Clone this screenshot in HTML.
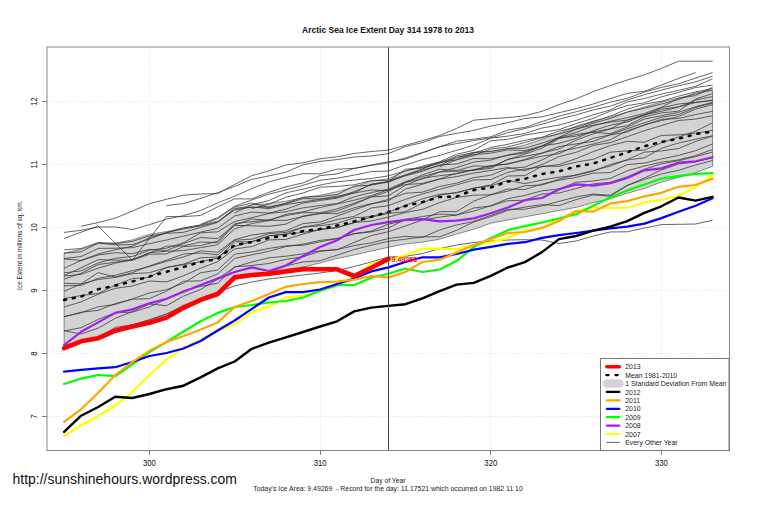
<!DOCTYPE html>
<html><head><meta charset="utf-8"><style>
html,body{margin:0;padding:0;background:#fff;overflow:hidden;}
svg{display:block;font-family:"Liberation Sans",sans-serif;}
</style></head><body>
<svg width="760" height="506" viewBox="0 0 760 506">
<rect x="0" y="0" width="760" height="506" fill="#fff"/>
<line x1="149.5" y1="47" x2="149.5" y2="450.5" stroke="#ececec" stroke-width="1" stroke-dasharray="1.5,1.5"/>
<line x1="320.5" y1="47" x2="320.5" y2="450.5" stroke="#ececec" stroke-width="1" stroke-dasharray="1.5,1.5"/>
<line x1="490.5" y1="47" x2="490.5" y2="450.5" stroke="#ececec" stroke-width="1" stroke-dasharray="1.5,1.5"/>
<line x1="661.5" y1="47" x2="661.5" y2="450.5" stroke="#ececec" stroke-width="1" stroke-dasharray="1.5,1.5"/>
<line x1="47" y1="416.5" x2="729.5" y2="416.5" stroke="#ececec" stroke-width="1" stroke-dasharray="1.5,1.5"/>
<line x1="47" y1="353.5" x2="729.5" y2="353.5" stroke="#ececec" stroke-width="1" stroke-dasharray="1.5,1.5"/>
<line x1="47" y1="290.5" x2="729.5" y2="290.5" stroke="#ececec" stroke-width="1" stroke-dasharray="1.5,1.5"/>
<line x1="47" y1="227.5" x2="729.5" y2="227.5" stroke="#ececec" stroke-width="1" stroke-dasharray="1.5,1.5"/>
<line x1="47" y1="164.5" x2="729.5" y2="164.5" stroke="#ececec" stroke-width="1" stroke-dasharray="1.5,1.5"/>
<line x1="47" y1="101.5" x2="729.5" y2="101.5" stroke="#ececec" stroke-width="1" stroke-dasharray="1.5,1.5"/>
<polygon points="64.1,252.9 81.1,249.3 98.2,243.4 115.3,243.0 132.3,239.9 149.4,234.4 166.5,231.6 183.5,228.0 200.6,225.0 217.7,220.9 234.7,209.3 251.8,204.7 268.9,203.6 285.9,201.2 303.0,197.6 320.1,195.3 337.1,191.7 354.2,187.0 371.3,181.0 388.4,178.7 405.4,171.0 422.5,166.0 439.6,162.0 456.6,158.0 473.7,152.2 490.8,151.1 507.8,148.7 524.9,145.1 542.0,139.2 559.0,133.3 576.1,126.2 593.2,121.0 610.2,117.0 627.3,112.0 644.4,107.0 661.4,102.0 678.5,98.0 695.6,94.0 712.6,90.3 712.6,166.3 695.6,172.6 678.5,177.4 661.4,182.1 644.4,188.4 627.3,193.2 610.2,198.8 593.2,202.6 576.1,207.4 559.0,210.5 542.0,213.7 524.9,216.8 507.8,220.0 490.8,223.2 473.7,229.3 456.6,234.0 439.6,239.2 422.5,242.1 405.4,244.0 388.4,247.3 371.3,251.0 354.2,255.0 337.1,258.5 320.1,263.0 303.0,267.0 285.9,271.0 268.9,273.6 251.8,275.0 234.7,277.5 217.7,294.0 200.6,300.0 183.5,305.0 166.5,314.0 149.4,320.0 132.3,326.0 115.3,331.0 98.2,337.5 81.1,342.0 64.1,345.0" fill="#d3d3d3" stroke="#444" stroke-width="0.6"/>
<polyline points="81.1,226.2 98.2,222.6 115.3,218.1 132.3,211.1 149.4,203.7 166.5,199.3 183.5,195.2 200.6,194.0 217.7,193.6 234.7,184.4 251.8,175.7 268.9,170.9 285.9,165.0 303.0,162.8 320.1,158.8 337.1,156.8 354.2,153.5 371.3,151.5 388.4,150.1 405.4,145.3 422.5,140.7 439.6,135.5 456.6,128.4 473.7,120.2 490.8,118.7 507.8,117.6 524.9,115.8 542.0,111.3 559.0,104.6 576.1,98.9 593.2,91.6 610.2,85.6 627.3,80.0 644.4,74.8 661.4,68.4 678.5,61.2 695.6,61.2 712.6,61.2" fill="none" stroke="#333" stroke-width="0.75"/>
<polyline points="166.5,205.6 183.5,203.5 200.6,198.4 217.7,192.7 234.7,186.3 251.8,179.4 268.9,175.9 285.9,172.2 303.0,164.8 320.1,161.4 337.1,159.6 354.2,157.0 371.3,156.0 388.4,153.6 405.4,146.6 422.5,142.5 439.6,136.5 456.6,133.4 473.7,130.4 490.8,126.1 507.8,122.7 524.9,118.5 542.0,116.8 559.0,112.7 576.1,108.7 593.2,104.0 610.2,98.6 627.3,93.4 644.4,91.3 661.4,85.1 678.5,78.4 695.6,72.7" fill="none" stroke="#333" stroke-width="0.75"/>
<polyline points="64.1,232.4 81.1,230.3 98.2,227.0 115.3,226.9 132.3,229.6 149.4,224.7 166.5,219.1 183.5,215.6 200.6,210.5 217.7,202.9 234.7,196.2 251.8,188.6 268.9,181.9 285.9,177.4 303.0,173.6 320.1,173.9 337.1,169.2 354.2,168.4 371.3,165.1 388.4,161.7 405.4,159.2 422.5,152.9 439.6,146.7 456.6,141.2 473.7,139.2 490.8,136.8 507.8,130.0 524.9,127.4 542.0,121.6 559.0,116.1 576.1,111.8 593.2,107.3 610.2,102.2 627.3,98.3 644.4,92.1 661.4,87.4 678.5,83.8 695.6,78.1 712.6,72.6" fill="none" stroke="#333" stroke-width="0.75"/>
<polyline points="64.1,238.4 81.1,232.2 98.2,226.1 115.3,243.1 132.3,260.1 149.4,238.4 166.5,216.6 183.5,216.6 200.6,215.5 217.7,206.8 234.7,198.9 251.8,198.9 268.9,192.3 285.9,186.8 303.0,182.9 320.1,175.6 337.1,173.9 354.2,168.4 371.3,165.3 388.4,162.9 405.4,158.0 422.5,152.5 439.6,146.8 456.6,143.6 473.7,140.6 490.8,137.9 507.8,132.7 524.9,128.5 542.0,124.2 559.0,119.2 576.1,114.9 593.2,109.9 610.2,106.2 627.3,100.0 644.4,94.7 661.4,90.1 678.5,85.8 695.6,81.9 712.6,76.2" fill="none" stroke="#333" stroke-width="0.75"/>
<polyline points="200.6,224.3 217.7,217.6 234.7,206.2 251.8,200.0 268.9,194.2 285.9,189.9 303.0,185.3 320.1,180.3 337.1,178.2 354.2,175.1 371.3,171.6 388.4,171.0 405.4,164.9 422.5,159.6 439.6,155.4 456.6,150.3 473.7,145.3 490.8,138.1 507.8,136.1 524.9,133.5 542.0,128.0 559.0,125.0 576.1,120.4 593.2,114.9 610.2,109.9 627.3,101.9 644.4,98.5 661.4,94.1 678.5,90.4 695.6,86.3 712.6,78.8" fill="none" stroke="#333" stroke-width="0.75"/>
<polyline points="234.7,212.9 251.8,204.8 268.9,200.5 285.9,192.8 303.0,189.1 320.1,185.0 337.1,181.8 354.2,180.1 371.3,178.5 388.4,175.9 405.4,170.8 422.5,167.2 439.6,161.8 456.6,154.3 473.7,150.3 490.8,140.8 507.8,139.3 524.9,135.1 542.0,132.3 559.0,129.6 576.1,123.6 593.2,118.4 610.2,111.1 627.3,105.6 644.4,102.8 661.4,96.9 678.5,92.4 695.6,87.5 712.6,85.1" fill="none" stroke="#333" stroke-width="0.75"/>
<polyline points="251.8,208.6 268.9,204.2 285.9,197.2 303.0,193.0 320.1,187.1 337.1,186.4 354.2,184.8 371.3,180.6 388.4,180.3 405.4,174.9 422.5,168.9 439.6,162.4 456.6,159.8 473.7,153.3 490.8,147.5 507.8,144.3 524.9,140.3 542.0,137.2 559.0,131.2 576.1,127.2 593.2,121.8 610.2,116.1 627.3,109.1 644.4,104.2 661.4,101.3 678.5,96.2 695.6,91.9 712.6,88.5" fill="none" stroke="#333" stroke-width="0.75"/>
<polyline points="439.6,166.8 456.6,159.7 473.7,155.7 490.8,149.0 507.8,147.0 524.9,142.5 542.0,137.6 559.0,134.0 576.1,129.2 593.2,123.1 610.2,118.6 627.3,112.0 644.4,108.2 661.4,104.0 678.5,99.5 695.6,93.1 712.6,89.7" fill="none" stroke="#333" stroke-width="0.75"/>
<polyline points="64.1,253.1 81.1,251.8 98.2,243.0 115.3,244.8 132.3,244.7 149.4,239.0 166.5,232.6 183.5,228.9 200.6,226.0 217.7,221.9 234.7,210.0 251.8,206.9 268.9,208.7 285.9,204.5 303.0,201.9 320.1,199.3 337.1,197.4 354.2,191.6 371.3,184.5 388.4,182.2 405.4,175.3 422.5,170.0 439.6,165.5 456.6,157.1 473.7,154.7 490.8,153.1 507.8,149.9 524.9,150.6 542.0,146.0 559.0,137.6 576.1,132.4 593.2,125.8 610.2,121.3 627.3,117.6 644.4,113.5 661.4,107.3 678.5,98.3 695.6,95.6 712.6,87.2" fill="none" stroke="#333" stroke-width="0.75"/>
<polyline points="64.1,258.9 81.1,260.4 98.2,254.0 115.3,249.7 132.3,246.3 149.4,237.7 166.5,232.7 183.5,227.9 200.6,225.0 217.7,218.6 234.7,207.2 251.8,203.0 268.9,207.7 285.9,203.1 303.0,197.2 320.1,196.5 337.1,194.5 354.2,186.0 371.3,185.2 388.4,181.6 405.4,169.2 422.5,168.0 439.6,163.2 456.6,156.0 473.7,152.5 490.8,151.5 507.8,148.5 524.9,148.2 542.0,143.1 559.0,137.3 576.1,129.0 593.2,125.1 610.2,122.2 627.3,120.0 644.4,115.2 661.4,107.8 678.5,104.0 695.6,102.3 712.6,100.6" fill="none" stroke="#333" stroke-width="0.75"/>
<polyline points="64.1,249.8 81.1,248.5 98.2,242.5 115.3,243.6 132.3,241.4 149.4,235.9 166.5,233.4 183.5,232.3 200.6,227.5 217.7,222.3 234.7,208.2 251.8,207.5 268.9,206.9 285.9,203.8 303.0,198.6 320.1,198.9 337.1,196.2 354.2,192.8 371.3,184.1 388.4,181.5 405.4,175.8 422.5,171.2 439.6,165.0 456.6,164.0 473.7,158.5 490.8,158.7 507.8,155.4 524.9,152.9 542.0,145.9 559.0,143.3 576.1,138.4 593.2,130.7 610.2,125.2 627.3,121.9 644.4,115.2 661.4,109.3 678.5,106.8 695.6,102.6 712.6,100.0" fill="none" stroke="#333" stroke-width="0.75"/>
<polyline points="64.1,258.7 81.1,256.5 98.2,248.4 115.3,248.2 132.3,247.7 149.4,243.7 166.5,240.0 183.5,236.1 200.6,232.1 217.7,228.3 234.7,215.9 251.8,212.1 268.9,213.1 285.9,209.2 303.0,203.1 320.1,200.5 337.1,198.1 354.2,193.0 371.3,190.0 388.4,190.7 405.4,182.3 422.5,178.9 439.6,171.9 456.6,171.1 473.7,170.2 490.8,168.4 507.8,159.2 524.9,156.3 542.0,153.1 559.0,148.9 576.1,140.1 593.2,133.8 610.2,128.9 627.3,120.3 644.4,114.7 661.4,111.3 678.5,107.1 695.6,100.2 712.6,96.5" fill="none" stroke="#333" stroke-width="0.75"/>
<polyline points="64.1,272.9 81.1,270.8 98.2,263.0 115.3,258.3 132.3,256.4 149.4,250.2 166.5,248.2 183.5,242.7 200.6,232.8 217.7,231.8 234.7,221.5 251.8,217.7 268.9,213.5 285.9,211.7 303.0,207.9 320.1,205.5 337.1,203.6 354.2,196.8 371.3,192.6 388.4,189.1 405.4,181.7 422.5,176.5 439.6,172.0 456.6,167.6 473.7,162.1 490.8,160.1 507.8,155.0 524.9,151.7 542.0,146.0 559.0,138.0 576.1,136.2 593.2,131.8 610.2,128.9 627.3,125.7 644.4,116.9 661.4,112.9 678.5,111.2 695.6,99.0 712.6,93.6" fill="none" stroke="#333" stroke-width="0.75"/>
<polyline points="64.1,268.2 81.1,260.5 98.2,255.0 115.3,252.7 132.3,253.6 149.4,249.4 166.5,250.7 183.5,243.6 200.6,237.5 217.7,238.6 234.7,225.0 251.8,219.0 268.9,220.3 285.9,220.4 303.0,216.5 320.1,213.6 337.1,211.0 354.2,204.4 371.3,196.9 388.4,191.4 405.4,182.6 422.5,174.9 439.6,169.2 456.6,170.6 473.7,165.9 490.8,166.4 507.8,163.8 524.9,159.5 542.0,153.1 559.0,146.6 576.1,143.9 593.2,141.4 610.2,134.8 627.3,128.7 644.4,122.8 661.4,117.3 678.5,114.6 695.6,107.5 712.6,103.1" fill="none" stroke="#333" stroke-width="0.75"/>
<polyline points="64.1,275.5 81.1,267.8 98.2,259.6 115.3,260.2 132.3,259.9 149.4,252.6 166.5,251.3 183.5,250.6 200.6,247.6 217.7,244.7 234.7,228.8 251.8,223.5 268.9,220.6 285.9,214.3 303.0,211.9 320.1,207.5 337.1,204.0 354.2,200.2 371.3,195.7 388.4,189.6 405.4,184.6 422.5,183.4 439.6,178.9 456.6,173.2 473.7,169.8 490.8,166.9 507.8,159.6 524.9,154.1 542.0,148.1 559.0,138.6 576.1,134.4 593.2,132.2 610.2,133.7 627.3,127.0 644.4,119.1 661.4,115.7 678.5,112.4 695.6,106.7 712.6,102.4" fill="none" stroke="#333" stroke-width="0.75"/>
<polyline points="64.1,279.1 81.1,273.3 98.2,264.5 115.3,262.2 132.3,260.2 149.4,254.2 166.5,253.9 183.5,246.6 200.6,245.5 217.7,241.2 234.7,223.7 251.8,221.6 268.9,219.9 285.9,215.6 303.0,212.6 320.1,212.8 337.1,208.8 354.2,203.3 371.3,196.9 388.4,195.8 405.4,185.3 422.5,178.2 439.6,175.7 456.6,173.8 473.7,169.8 490.8,165.5 507.8,164.1 524.9,160.0 542.0,156.2 559.0,153.6 576.1,145.6 593.2,138.3 610.2,134.9 627.3,132.0 644.4,124.6 661.4,120.6 678.5,116.5 695.6,109.1 712.6,104.5" fill="none" stroke="#333" stroke-width="0.75"/>
<polyline points="64.1,276.1 81.1,274.3 98.2,268.2 115.3,263.1 132.3,259.8 149.4,253.2 166.5,246.2 183.5,245.9 200.6,242.0 217.7,242.7 234.7,225.4 251.8,225.8 268.9,226.4 285.9,224.1 303.0,216.1 320.1,213.3 337.1,213.7 354.2,207.8 371.3,203.7 388.4,200.9 405.4,189.1 422.5,184.2 439.6,179.2 456.6,176.6 473.7,173.1 490.8,170.5 507.8,167.5 524.9,170.6 542.0,164.5 559.0,156.6 576.1,152.3 593.2,145.4 610.2,142.7 627.3,136.7 644.4,130.7 661.4,125.5 678.5,120.5 695.6,119.1 712.6,115.7" fill="none" stroke="#333" stroke-width="0.75"/>
<polyline points="64.1,285.8 81.1,285.4 98.2,278.3 115.3,275.3 132.3,270.8 149.4,266.5 166.5,261.4 183.5,257.0 200.6,250.8 217.7,252.3 234.7,239.6 251.8,235.0 268.9,232.7 285.9,230.9 303.0,223.6 320.1,222.0 337.1,216.1 354.2,209.8 371.3,204.1 388.4,199.4 405.4,193.3 422.5,192.1 439.6,186.5 456.6,183.1 473.7,177.7 490.8,175.2 507.8,168.4 524.9,167.1 542.0,159.9 559.0,151.6 576.1,148.1 593.2,144.0 610.2,139.8 627.3,130.6 644.4,125.3 661.4,119.4 678.5,118.5 695.6,114.5 712.6,111.4" fill="none" stroke="#333" stroke-width="0.75"/>
<polyline points="64.1,283.3 81.1,283.8 98.2,272.6 115.3,277.0 132.3,272.7 149.4,265.9 166.5,260.2 183.5,254.0 200.6,253.0 217.7,254.8 234.7,240.3 251.8,239.2 268.9,233.6 285.9,232.4 303.0,227.2 320.1,224.2 337.1,219.6 354.2,216.4 371.3,208.0 388.4,205.6 405.4,199.4 422.5,193.9 439.6,189.3 456.6,184.9 473.7,180.0 490.8,179.5 507.8,172.3 524.9,169.1 542.0,166.7 559.0,164.6 576.1,158.6 593.2,151.7 610.2,145.6 627.3,141.3 644.4,142.2 661.4,135.4 678.5,134.9 695.6,133.2 712.6,130.4" fill="none" stroke="#333" stroke-width="0.75"/>
<polyline points="64.1,291.3 81.1,283.9 98.2,279.5 115.3,277.4 132.3,273.7 149.4,272.7 166.5,267.6 183.5,264.1 200.6,257.8 217.7,257.0 234.7,246.4 251.8,241.7 268.9,236.0 285.9,234.1 303.0,227.1 320.1,225.8 337.1,223.4 354.2,217.9 371.3,216.5 388.4,212.3 405.4,205.4 422.5,198.8 439.6,194.4 456.6,192.9 473.7,188.2 490.8,184.9 507.8,176.0 524.9,175.6 542.0,166.2 559.0,166.2 576.1,162.1 593.2,159.3 610.2,152.2 627.3,150.8 644.4,150.1 661.4,142.8 678.5,137.0 695.6,131.2 712.6,122.8" fill="none" stroke="#333" stroke-width="0.75"/>
<polyline points="64.1,298.6 81.1,295.5 98.2,293.5 115.3,285.1 132.3,278.6 149.4,277.5 166.5,267.4 183.5,264.6 200.6,261.7 217.7,258.1 234.7,241.8 251.8,241.9 268.9,235.7 285.9,234.1 303.0,232.4 320.1,229.5 337.1,227.4 354.2,222.7 371.3,217.1 388.4,213.4 405.4,211.8 422.5,203.0 439.6,195.1 456.6,192.4 473.7,188.2 490.8,185.9 507.8,180.4 524.9,183.6 542.0,180.1 559.0,177.2 576.1,175.3 593.2,171.1 610.2,164.5 627.3,160.0 644.4,157.8 661.4,148.3 678.5,143.0 695.6,139.2 712.6,135.7" fill="none" stroke="#333" stroke-width="0.75"/>
<polyline points="64.1,307.0 81.1,301.8 98.2,294.2 115.3,288.3 132.3,286.0 149.4,281.0 166.5,281.9 183.5,275.8 200.6,268.2 217.7,261.7 234.7,248.9 251.8,246.6 268.9,239.9 285.9,239.4 303.0,234.1 320.1,229.5 337.1,227.7 354.2,222.6 371.3,221.1 388.4,217.1 405.4,212.5 422.5,209.3 439.6,202.6 456.6,197.4 473.7,195.2 490.8,194.8 507.8,189.0 524.9,189.5 542.0,184.0 559.0,180.3 576.1,177.4 593.2,173.1 610.2,172.6 627.3,164.6 644.4,163.1 661.4,158.9 678.5,155.4 695.6,150.7 712.6,144.0" fill="none" stroke="#333" stroke-width="0.75"/>
<polyline points="64.1,316.6 81.1,312.8 98.2,306.8 115.3,304.4 132.3,298.9 149.4,292.9 166.5,289.7 183.5,283.1 200.6,272.7 217.7,270.1 234.7,254.1 251.8,252.0 268.9,248.4 285.9,245.8 303.0,245.3 320.1,241.8 337.1,238.7 354.2,233.6 371.3,231.1 388.4,224.2 405.4,220.4 422.5,219.8 439.6,211.7 456.6,211.7 473.7,201.2 490.8,194.8 507.8,191.1 524.9,185.7 542.0,185.0 559.0,179.2 576.1,174.9 593.2,170.5 610.2,166.1 627.3,159.6 644.4,152.1 661.4,150.9 678.5,148.5 695.6,141.5 712.6,136.1" fill="none" stroke="#333" stroke-width="0.75"/>
<polyline points="64.1,316.7 81.1,312.2 98.2,310.4 115.3,303.6 132.3,299.3 149.4,298.6 166.5,291.2 183.5,281.2 200.6,280.9 217.7,273.9 234.7,258.4 251.8,254.8 268.9,251.3 285.9,246.6 303.0,244.1 320.1,240.4 337.1,238.5 354.2,233.7 371.3,231.9 388.4,228.0 405.4,219.4 422.5,216.5 439.6,214.1 456.6,215.0 473.7,211.1 490.8,205.7 507.8,198.7 524.9,195.4 542.0,190.8 559.0,188.9 576.1,182.3 593.2,181.0 610.2,178.4 627.3,170.8 644.4,166.0 661.4,162.2 678.5,159.9 695.6,155.6 712.6,149.5" fill="none" stroke="#333" stroke-width="0.75"/>
<polyline points="64.1,331.0 81.1,327.7 98.2,319.4 115.3,312.6 132.3,312.2 149.4,306.9 166.5,299.2 183.5,290.6 200.6,286.4 217.7,283.2 234.7,267.1 251.8,262.0 268.9,257.8 285.9,256.2 303.0,253.9 320.1,250.9 337.1,249.6 354.2,242.4 371.3,235.6 388.4,231.7 405.4,226.1 422.5,219.9 439.6,217.1 456.6,215.0 473.7,208.0 490.8,206.0 507.8,200.7 524.9,200.2 542.0,194.0 559.0,193.0 576.1,188.5 593.2,183.9 610.2,182.4 627.3,176.7 644.4,169.3 661.4,163.8 678.5,160.8 695.6,156.6 712.6,152.0" fill="none" stroke="#333" stroke-width="0.75"/>
<polyline points="64.1,330.8 81.1,334.0 98.2,328.1 115.3,318.3 132.3,311.5 149.4,303.9 166.5,305.7 183.5,296.1 200.6,289.5 217.7,279.0 234.7,266.9 251.8,265.5 268.9,263.5 285.9,259.3 303.0,256.8 320.1,251.3 337.1,249.6 354.2,245.6 371.3,242.9 388.4,238.5 405.4,236.3 422.5,237.4 439.6,230.0 456.6,225.0 473.7,221.4 490.8,215.4 507.8,209.3 524.9,209.2 542.0,205.9 559.0,201.4 576.1,196.9 593.2,194.0 610.2,195.3 627.3,185.3 644.4,179.4 661.4,173.9 678.5,170.3 695.6,165.0 712.6,160.5" fill="none" stroke="#333" stroke-width="0.75"/>
<polyline points="64.1,345.5 81.1,342.5 98.2,337.8 115.3,327.4 132.3,324.9 149.4,319.6 166.5,314.1 183.5,306.2 200.6,300.3 217.7,293.1 234.7,277.7 251.8,275.8 268.9,272.9 285.9,265.9 303.0,261.9 320.1,260.8 337.1,255.1 354.2,249.5 371.3,245.2 388.4,241.3 405.4,239.2 422.5,236.8 439.6,236.8 456.6,230.3 473.7,222.0 490.8,216.6 507.8,210.4 524.9,207.0 542.0,204.7 559.0,205.6 576.1,199.6 593.2,195.0 610.2,196.1 627.3,185.6 644.4,178.0 661.4,170.0 678.5,164.0 695.6,161.8 712.6,157.6" fill="none" stroke="#333" stroke-width="0.75"/>
<polyline points="200.6,298.0 217.7,292.0 234.7,286.0 251.8,282.0 268.9,279.0 285.9,277.0 303.0,275.0 320.1,273.0 337.1,270.5 354.2,266.5 371.3,262.0 388.4,257.0 405.4,256.3 422.5,253.5 439.6,248.6 456.6,245.0 473.7,242.5 490.8,241.0 507.8,240.0 524.9,239.7 542.0,240.0 559.0,243.5 576.1,241.0 593.2,236.0 610.2,232.0 627.3,231.8 644.4,228.0 661.4,224.6 678.5,224.3 695.6,224.0 712.6,220.2" fill="none" stroke="#333" stroke-width="0.75"/>
<polyline points="64.1,435.9 81.1,425.2 98.2,416.0 115.3,405.3 132.3,392.0 149.4,375.0 166.5,359.6 183.5,347.8 200.6,340.0 217.7,331.0 234.7,324.2 251.8,312.0 268.9,306.6 285.9,297.5 303.0,295.4 320.1,291.0 337.1,285.0 354.2,277.0 371.3,263.5 388.4,260.5 405.4,255.0 422.5,248.6 439.6,248.6 456.6,249.3 473.7,245.0 490.8,242.6 507.8,237.9 524.9,230.3 542.0,227.9 559.0,218.9 576.1,211.0 593.2,207.7 610.2,208.2 627.3,207.7 644.4,202.2 661.4,199.9 678.5,195.8 695.6,186.8 712.6,175.5" fill="none" stroke="#ffff00" stroke-width="2.2" stroke-linejoin="round" stroke-linecap="round"/>
<polyline points="64.1,345.0 81.1,331.8 98.2,322.4 115.3,312.9 132.3,309.3 149.4,303.4 166.5,298.7 183.5,291.8 200.6,285.0 217.7,278.6 234.7,272.0 251.8,267.4 268.9,271.0 285.9,265.5 303.0,256.0 320.1,247.0 337.1,240.2 354.2,230.0 371.3,225.0 388.4,222.2 405.4,219.8 422.5,219.1 439.6,221.4 456.6,220.7 473.7,218.4 490.8,213.3 507.8,207.5 524.9,200.2 542.0,198.0 559.0,189.3 576.1,184.4 593.2,185.6 610.2,183.2 627.3,178.0 644.4,170.3 661.4,168.4 678.5,162.7 695.6,161.3 712.6,157.2" fill="none" stroke="#a020f0" stroke-width="2.2" stroke-linejoin="round" stroke-linecap="round"/>
<polyline points="64.1,384.0 81.1,378.6 98.2,375.0 115.3,376.2 132.3,364.3 149.4,352.0 166.5,342.0 183.5,331.5 200.6,321.2 217.7,312.9 234.7,307.0 251.8,305.0 268.9,302.5 285.9,301.0 303.0,297.5 320.1,290.7 337.1,285.2 354.2,285.0 371.3,277.8 388.4,273.7 405.4,268.5 422.5,272.0 439.6,269.5 456.6,261.0 473.7,247.0 490.8,238.0 507.8,230.3 524.9,226.1 542.0,222.5 559.0,218.5 576.1,214.2 593.2,205.8 610.2,197.5 627.3,190.4 644.4,184.5 661.4,178.6 678.5,176.2 695.6,173.8 712.6,173.1" fill="none" stroke="#00ff00" stroke-width="2.2" stroke-linejoin="round" stroke-linecap="round"/>
<polyline points="64.1,371.7 81.1,369.8 98.2,368.4 115.3,367.2 132.3,362.0 149.4,356.0 166.5,353.0 183.5,348.5 200.6,341.0 217.7,330.5 234.7,320.5 251.8,308.8 268.9,297.5 285.9,292.1 303.0,292.1 320.1,289.5 337.1,284.0 354.2,278.6 371.3,271.4 388.4,267.4 405.4,262.0 422.5,257.3 439.6,257.3 456.6,254.0 473.7,249.7 490.8,246.9 507.8,243.8 524.9,242.2 542.0,237.9 559.0,235.1 576.1,233.0 593.2,230.7 610.2,228.3 627.3,226.6 644.4,223.6 661.4,218.1 678.5,211.7 695.6,205.8 712.6,198.2" fill="none" stroke="#0000ff" stroke-width="2.2" stroke-linejoin="round" stroke-linecap="round"/>
<polyline points="64.1,421.9 81.1,409.3 98.2,392.8 115.3,375.0 132.3,362.0 149.4,350.8 166.5,342.0 183.5,336.0 200.6,329.5 217.7,322.4 234.7,307.0 251.8,301.0 268.9,294.0 285.9,286.8 303.0,284.0 320.1,282.1 337.1,281.6 354.2,279.7 371.3,276.2 388.4,277.4 405.4,272.0 422.5,262.0 439.6,259.7 456.6,252.6 473.7,245.0 490.8,239.0 507.8,233.0 524.9,232.0 542.0,228.0 559.0,221.0 576.1,211.0 593.2,211.7 610.2,203.4 627.3,201.1 644.4,196.3 661.4,192.8 678.5,186.8 695.6,185.0 712.6,178.6" fill="none" stroke="#ffa500" stroke-width="2.2" stroke-linejoin="round" stroke-linecap="round"/>
<polyline points="64.1,431.8 81.1,415.7 98.2,407.0 115.3,396.8 132.3,398.0 149.4,394.0 166.5,389.2 183.5,385.7 200.6,377.4 217.7,368.4 234.7,361.5 251.8,348.8 268.9,342.6 285.9,337.4 303.0,332.0 320.1,326.5 337.1,321.3 354.2,311.4 371.3,307.6 388.4,305.9 405.4,304.2 422.5,298.3 439.6,291.2 456.6,284.6 473.7,282.9 490.8,275.8 507.8,267.5 524.9,262.1 542.0,252.1 559.0,239.1 576.1,236.0 593.2,230.7 610.2,226.6 627.3,221.2 644.4,212.9 661.4,206.3 678.5,197.5 695.6,200.6 712.6,196.8" fill="none" stroke="#000" stroke-width="2.4" stroke-linejoin="round" stroke-linecap="round"/>
<polyline points="64.1,299.9 81.1,296.6 98.2,289.2 115.3,285.5 132.3,281.6 149.4,276.4 166.5,271.8 183.5,267.0 200.6,262.0 217.7,259.0 234.7,245.0 251.8,242.0 268.9,238.0 285.9,235.5 303.0,231.0 320.1,229.0 337.1,225.5 354.2,221.4 371.3,216.7 388.4,212.0 405.4,206.0 422.5,202.0 439.6,197.0 456.6,196.5 473.7,190.0 490.8,187.5 507.8,181.5 524.9,178.8 542.0,174.0 559.0,171.3 576.1,166.5 593.2,163.5 610.2,158.0 627.3,152.3 644.4,146.2 661.4,142.0 678.5,138.7 695.6,134.1 712.6,131.6" fill="none" stroke="#000" stroke-width="2.5" stroke-dasharray="2.0,6.9" stroke-linecap="round"/>
<polyline points="64.1,348.2 81.1,341.3 98.2,338.2 115.3,330.7 132.3,326.5 149.4,322.8 166.5,317.5 183.5,307.8 200.6,299.9 217.7,294.0 234.7,277.4 251.8,275.0 268.9,273.8 285.9,271.4 303.0,269.1 320.1,269.3 337.1,269.3 354.2,276.0 371.3,267.7 388.4,258.9" fill="none" stroke="#ff0000" stroke-width="4.6" stroke-linejoin="round" stroke-linecap="round"/>
<line x1="388.5" y1="47" x2="388.5" y2="450.5" stroke="#444" stroke-width="1"/>
<text x="391.5" y="261.6" fill="#ff0000" stroke="#ff0000" stroke-width="0.25" font-size="7.1">9.49269</text>
<rect x="47" y="47" width="682.5" height="403.5" fill="none" stroke="#888" stroke-width="1"/>
<line x1="149.5" y1="450.5" x2="149.5" y2="455" stroke="#808080" stroke-width="1"/>
<text transform="translate(149.4,465.9) scale(0.93,1)" text-anchor="middle" font-size="8.3" fill="#14082a">300</text>
<line x1="320.5" y1="450.5" x2="320.5" y2="455" stroke="#808080" stroke-width="1"/>
<text transform="translate(320.1,465.9) scale(0.93,1)" text-anchor="middle" font-size="8.3" fill="#14082a">310</text>
<line x1="490.5" y1="450.5" x2="490.5" y2="455" stroke="#808080" stroke-width="1"/>
<text transform="translate(490.8,465.9) scale(0.93,1)" text-anchor="middle" font-size="8.3" fill="#14082a">320</text>
<line x1="661.5" y1="450.5" x2="661.5" y2="455" stroke="#808080" stroke-width="1"/>
<text transform="translate(661.4,465.9) scale(0.93,1)" text-anchor="middle" font-size="8.3" fill="#14082a">330</text>
<line x1="42" y1="416.5" x2="47" y2="416.5" stroke="#808080" stroke-width="1"/>
<text transform="translate(37.3,416.5) rotate(-90) scale(0.93,1)" text-anchor="middle" font-size="8.3" fill="#14082a">7</text>
<line x1="42" y1="353.5" x2="47" y2="353.5" stroke="#808080" stroke-width="1"/>
<text transform="translate(37.3,353.5) rotate(-90) scale(0.93,1)" text-anchor="middle" font-size="8.3" fill="#14082a">8</text>
<line x1="42" y1="290.5" x2="47" y2="290.5" stroke="#808080" stroke-width="1"/>
<text transform="translate(37.3,290.5) rotate(-90) scale(0.93,1)" text-anchor="middle" font-size="8.3" fill="#14082a">9</text>
<line x1="42" y1="227.5" x2="47" y2="227.5" stroke="#808080" stroke-width="1"/>
<text transform="translate(37.3,227.5) rotate(-90) scale(0.93,1)" text-anchor="middle" font-size="8.3" fill="#14082a">10</text>
<line x1="42" y1="164.5" x2="47" y2="164.5" stroke="#808080" stroke-width="1"/>
<text transform="translate(37.3,164.5) rotate(-90) scale(0.93,1)" text-anchor="middle" font-size="8.3" fill="#14082a">11</text>
<line x1="42" y1="101.5" x2="47" y2="101.5" stroke="#808080" stroke-width="1"/>
<text transform="translate(37.3,101.5) rotate(-90) scale(0.93,1)" text-anchor="middle" font-size="8.3" fill="#14082a">12</text>
<rect x="600.5" y="358.5" width="128.5" height="92" fill="#fff" stroke="#777" stroke-width="1"/>
<line x1="606.8" y1="366.7" x2="619.4" y2="366.7" stroke="#ff0000" stroke-width="3.4" stroke-linecap="round"/>
<text x="625.3" y="369.3" font-size="6.86" fill="#222">2013</text>
<line x1="606.35" y1="375.1" x2="617.65" y2="375.1" stroke="#000" stroke-width="2.3" stroke-dasharray="2.2,6.9" stroke-linecap="round"/>
<text x="625.3" y="377.7" font-size="6.86" fill="#222">Mean 1981-2010</text>
<rect x="602.7" y="379.3" width="20.8" height="8.4" rx="4.2" fill="#d3d3d3"/>
<text x="625.3" y="386.1" font-size="6.86" fill="#222">1 Standard Deviation From Mean</text>
<line x1="606.8" y1="391.9" x2="619.4" y2="391.9" stroke="#000" stroke-width="2.2" stroke-linecap="round"/>
<text x="625.3" y="394.5" font-size="6.86" fill="#222">2012</text>
<line x1="606.8" y1="400.3" x2="619.4" y2="400.3" stroke="#ffa500" stroke-width="2.2" stroke-linecap="round"/>
<text x="625.3" y="402.9" font-size="6.86" fill="#222">2011</text>
<line x1="606.8" y1="408.8" x2="619.4" y2="408.8" stroke="#0000ff" stroke-width="2.2" stroke-linecap="round"/>
<text x="625.3" y="411.4" font-size="6.86" fill="#222">2010</text>
<line x1="606.8" y1="417.2" x2="619.4" y2="417.2" stroke="#00ff00" stroke-width="2.2" stroke-linecap="round"/>
<text x="625.3" y="419.8" font-size="6.86" fill="#222">2009</text>
<line x1="606.8" y1="425.6" x2="619.4" y2="425.6" stroke="#a020f0" stroke-width="2.2" stroke-linecap="round"/>
<text x="625.3" y="428.2" font-size="6.86" fill="#222">2008</text>
<line x1="606.8" y1="434.0" x2="619.4" y2="434.0" stroke="#ffff00" stroke-width="2.2" stroke-linecap="round"/>
<text x="625.3" y="436.6" font-size="6.86" fill="#222">2007</text>
<line x1="606.8" y1="442.4" x2="619.4" y2="442.4" stroke="#444" stroke-width="0.8" stroke-linecap="round"/>
<text x="625.3" y="445.0" font-size="6.86" fill="#222">Every Other Year</text>
<text x="388" y="33.1" text-anchor="middle" font-size="8.52" font-weight="bold" fill="#111">Arctic Sea Ice Extent Day 314 1978 to 2013</text>
<text transform="translate(21.5,245.2) rotate(-90)" text-anchor="middle" font-size="6.53" fill="#222">Ice Extent in millions of sq. km.</text>
<text x="388" y="482.9" text-anchor="middle" font-size="6.75" fill="#222">Day of Year</text>
<text x="388" y="490.7" text-anchor="middle" font-size="6.9" fill="#222" xml:space="preserve">Today's Ice Area: 9.49269  - Record for the day: 11.17521 which occurred on 1982 11 10</text>
<text x="12.5" y="483.7" font-size="13.98" fill="#111">http://sunshinehours.wordpress.com</text>
</svg>
</body></html>
